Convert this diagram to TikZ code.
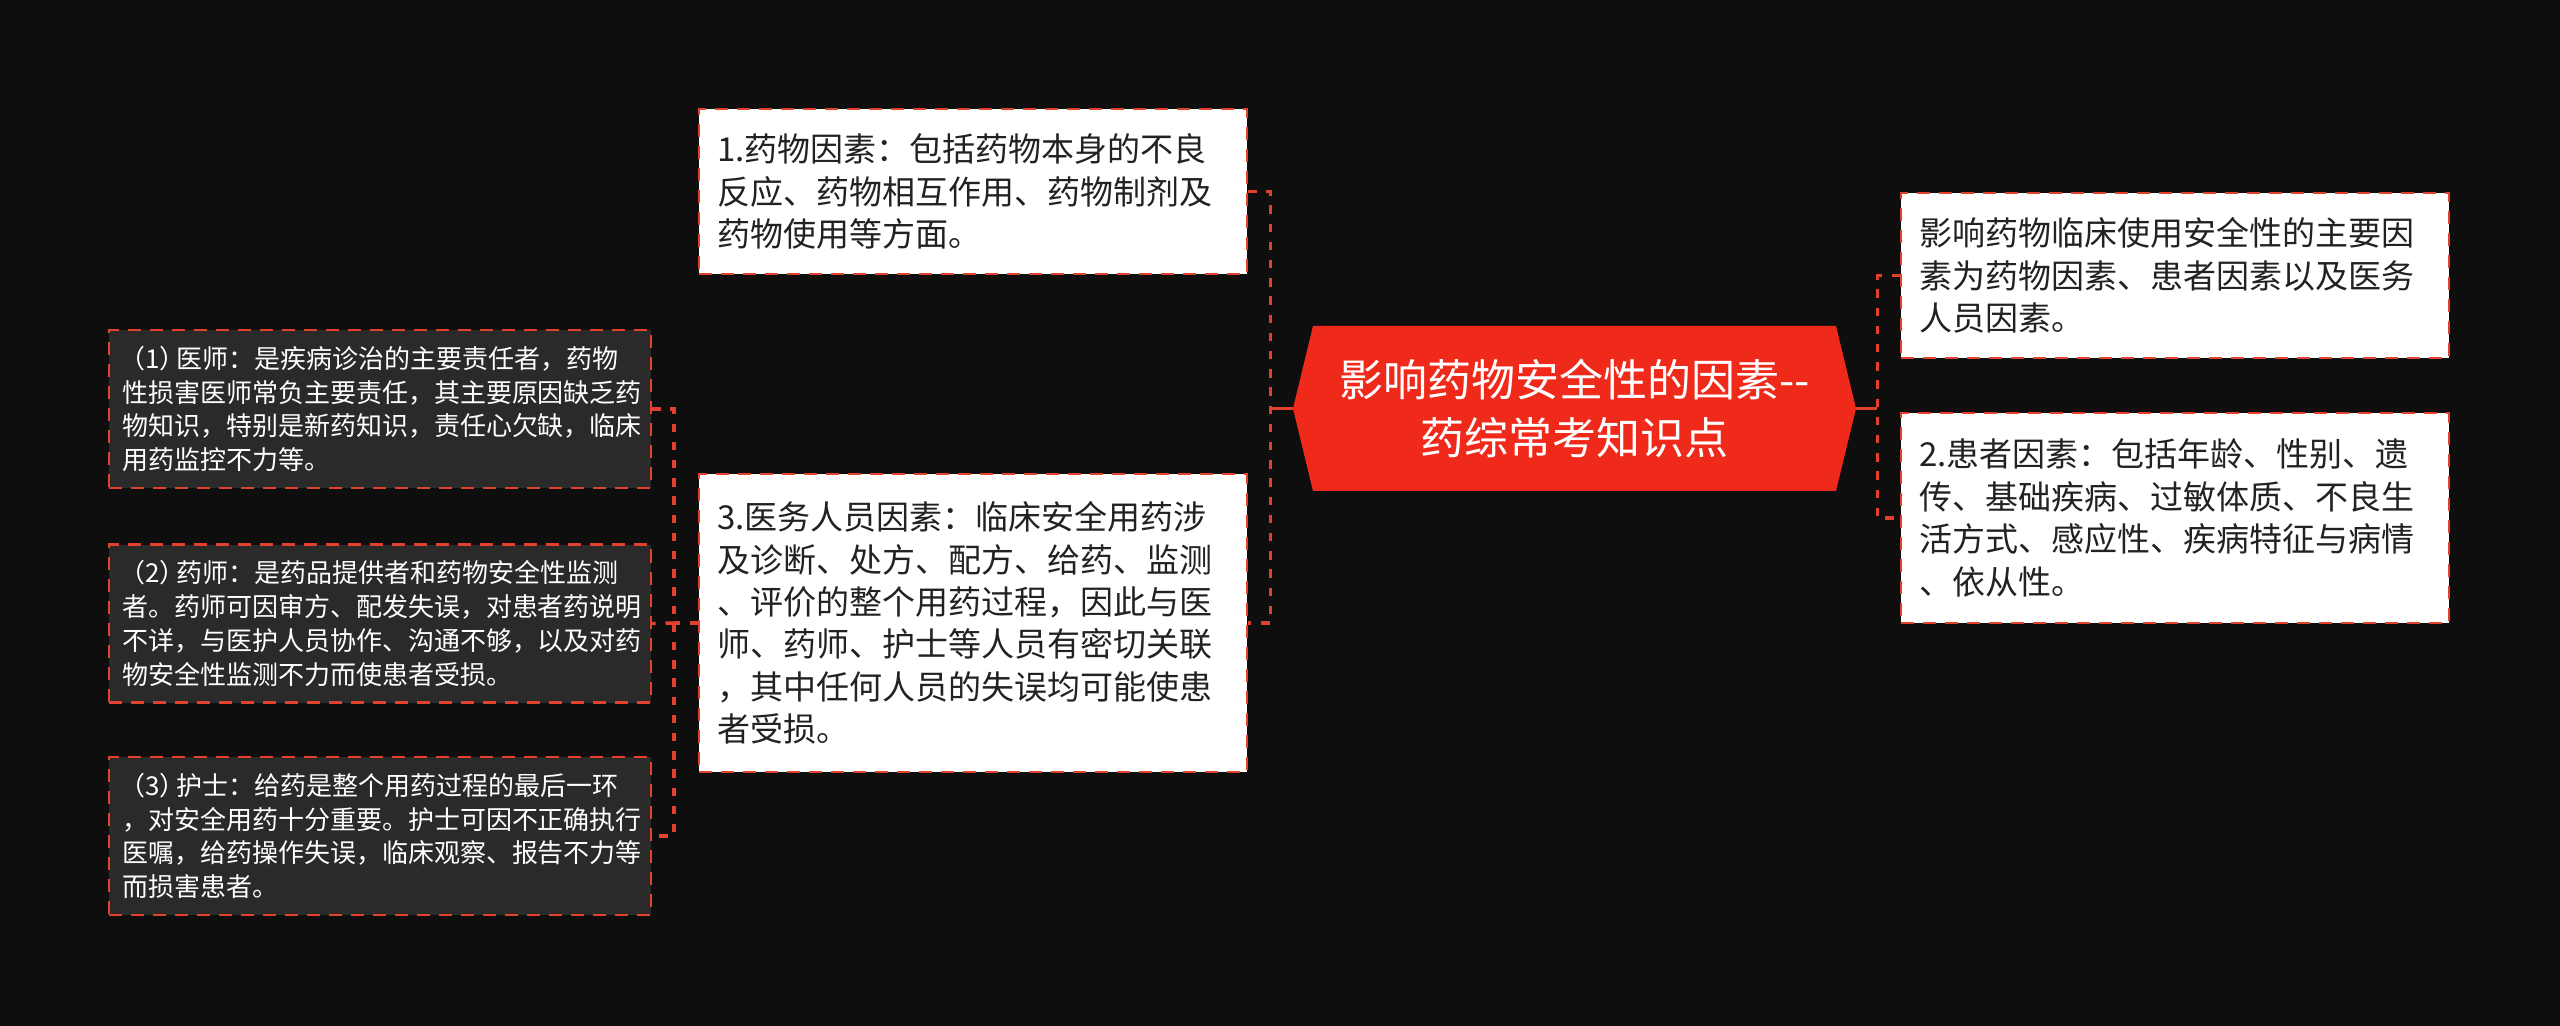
\documentclass[tikz,border=0pt]{standalone}
\usepackage{fontspec}
\newfontfamily\cjk{Noto Sans CJK SC}
\definecolor{bgc}{HTML}{0E0E0E}
\definecolor{linered}{HTML}{E2412E}
\definecolor{rootred}{HTML}{EF2A1B}
\definecolor{darkfill}{HTML}{2A2A2A}
\definecolor{darktext}{HTML}{222222}
\newcommand{\numlbl}[1]{\kern-0.1em（#1）\kern-0.35em}
\tikzset{
  whitebox/.style={draw=linered, line width=1.1pt, dash pattern=on 6.5pt off 4.5pt,
    fill=white, text=darktext, align=left, inner xsep=9pt, inner ysep=0pt,
    text width=256pt, minimum width=274pt,
    font=\cjk\fontsize{16.5pt}{21.2pt}\selectfont},
  darkbox/.style={draw=linered, line width=1.1pt, dash pattern=on 6.5pt off 4.5pt,
    fill=darkfill, text=white, align=left, inner xsep=6.5pt, inner ysep=0pt,
    text width=258pt, minimum width=271pt, minimum height=79pt,
    font=\cjk\fontsize{13pt}{16.9pt}\selectfont},
  rootbox/.style={text=white, align=center, inner sep=0pt,
    minimum width=281.5pt, minimum height=82.5pt,
    font=\cjk\fontsize{22pt}{29pt}\selectfont,
    path picture={\fill[rootred] (path picture bounding box.west)
      -- ([xshift=10pt]path picture bounding box.north west)
      -- ([xshift=-10pt]path picture bounding box.north east)
      -- (path picture bounding box.east)
      -- ([xshift=-10pt]path picture bounding box.south east)
      -- ([xshift=10pt]path picture bounding box.south west) -- cycle;}},
  solidconn/.style={draw=linered, line width=1.7pt},
  dashconn/.style={draw=linered, line width=1.7pt, dash pattern=on 4.2pt off 4.9pt}
}
\begin{document}
\begin{tikzpicture}[x=0.5pt,y=-0.5pt]
\fill[bgc] (0,0) rectangle (2560,1026);
\useasboundingbox (0,0) rectangle (2560,1026);

\node[rootbox] (root) at (1574.5,408.5) {影响药物安全性的因素--\\药综常考知识点};

\node[whitebox, minimum height=82.5pt] (n1) at (973,191.5)
  {1.药物因素：包括药物本身的不良\\反应、药物相互作用、药物制剂及\\药物使用等方面。};
\node[whitebox, minimum height=149pt] (n3) at (973,623)
  {3.医务人员因素：临床安全用药涉\\及诊断、处方、配方、给药、监测\\、评价的整个用药过程，因此与医\\师、药师、护士等人员有密切关联\\，其中任何人员的失误均可能使患\\者受损。};
\node[whitebox, minimum height=82.5pt] (nA) at (2175,275.5)
  {影响药物临床使用安全性的主要因\\素为药物因素、患者因素以及医务\\人员因素。};
\node[whitebox, minimum height=105pt] (nB) at (2175,518)
  {2.患者因素：包括年龄、性别、遗\\传、基础疾病、过敏体质、不良生\\活方式、感应性、疾病特征与病情\\、依从性。};

\node[darkbox] (L1) at (380,409)
  {\numlbl{1}医师：是疾病诊治的主要责任者，药物\\性损害医师常负主要责任，其主要原因缺乏药\\物知识，特别是新药知识，责任心欠缺，临床\\用药监控不力等。};
\node[darkbox] (L2) at (380,623.5)
  {\numlbl{2}药师：是药品提供者和药物安全性监测\\者。药师可因审方、配发失误，对患者药说明\\不详，与医护人员协作、沟通不够，以及对药\\物安全性监测不力而使患者受损。};
\node[darkbox] (L3) at (380,836)
  {\numlbl{3}护士：给药是整个用药过程的最后一环\\，对安全用药十分重要。护士可因不正确执行\\医嘱，给药操作失误，临床观察、报告不力等\\而损害患者。};

% left of root
\coordinate (sp1) at ([xshift=-11pt]root.west);
\draw[solidconn] (root.west) -- (sp1);
\draw[dashconn] (n1.east) -| (sp1) |- (n3.east);

% right of root
\coordinate (sp2) at ([xshift=10.5pt]root.east);
\draw[solidconn] (root.east) -- (sp2);
\draw[dashconn] (nA.west) -| (sp2) |- (nB.west);

% left of n3
\coordinate (sp3) at ([xshift=-12pt]n3.west);
\draw[dashconn] (n3.west) -- (sp3);
\draw[dashconn] (L1.east) -| (sp3) |- (L3.east);
\draw[dashconn] (sp3) -- (L2.east);
\end{tikzpicture}
\end{document}
